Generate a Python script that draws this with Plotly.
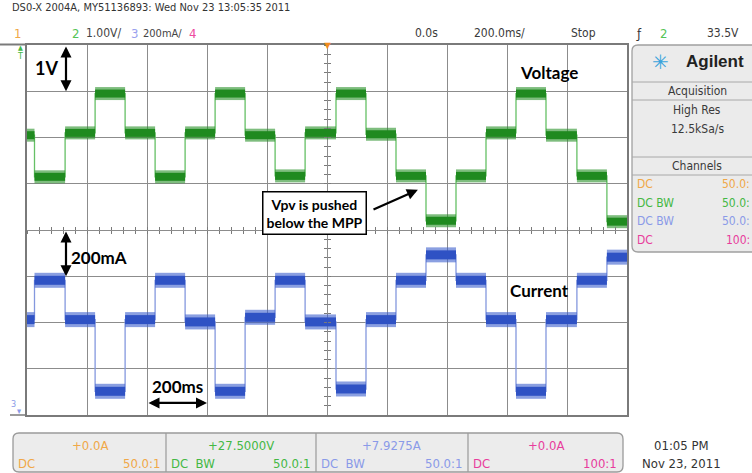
import plotly.graph_objects as go

# ---------------- data ----------------
time_range_ms = [-1000, 1000]          # 200 ms/div, 10 divisions, delay 0.0 s
step_times_ms = [-975, -873, -773, -673, -573, -473, -373, -273, -173, -73,
                 30, 130, 230, 330, 430, 530, 630, 730, 833, 933]
voltage_V = [29.55, 28.65, 29.60, 30.45, 29.60, 28.65, 29.60, 30.45, 29.55, 28.67,
             29.60, 30.45, 29.57, 28.67, 27.70, 28.67, 29.60, 30.45, 29.55, 28.67, 27.68]
current_A = [7.54, 7.71, 7.54, 7.23, 7.54, 7.71, 7.53, 7.23, 7.55, 7.71,
             7.53, 7.24, 7.54, 7.71, 7.82, 7.71, 7.54, 7.23, 7.54, 7.71, 7.81]
volt_per_div = 1.0
amp_per_div = 0.2
ch2_offset_V = 27.5
ch3_offset_A = 7.9275
n_vdiv = 8

# ---------------- geometry helpers (page pixels -> paper) ----------------
W, H = 752, 473
L, R, T, B = 27, 627, 45, 415
def PX(x): return (x - L) / (R - L)
def PY(y): return (B - y) / (B - T)

SCOPE = "Liberation Sans Narrow, DejaVu Sans Condensed, Liberation Sans, sans-serif"
BOLD = "Lato, Open Sans, Noto Sans, sans-serif"

bounds = [time_range_ms[0]] + step_times_ms + [time_range_ms[1]]

def step_xy(levels):
    return bounds[:-1] + [bounds[-1]], levels + [levels[-1]]

def band_xy(levels):
    xs, ys = [], []
    for i, lv in enumerate(levels):
        xs += [bounds[i], bounds[i + 1], None]
        ys += [lv, lv, None]
    return xs, ys

fig = go.Figure()

vx, vy = step_xy(voltage_V)
ix, iy = step_xy(current_A)
vbx, vby = band_xy(voltage_V)
ibx, iby = band_xy(current_A)

fig.add_trace(go.Scatter(x=vx, y=vy, mode="lines", line=dict(shape="hv", color="#66c066", width=1.3),
                         showlegend=False, hoverinfo="skip"))
fig.add_trace(go.Scatter(x=ix, y=iy, yaxis="y2", mode="lines", line=dict(shape="hv", color="#8498de", width=1.3),
                         showlegend=False, hoverinfo="skip"))
fig.add_trace(go.Scatter(x=vbx, y=vby, mode="lines", line=dict(color="rgba(40,145,40,0.6)", width=13),
                         showlegend=False, hoverinfo="skip"))
fig.add_trace(go.Scatter(x=vbx, y=vby, mode="lines", line=dict(color="#1f8a1f", width=8),
                         showlegend=False, hoverinfo="skip"))
fig.add_trace(go.Scatter(x=ibx, y=iby, yaxis="y2", mode="lines", line=dict(color="rgba(60,95,205,0.6)", width=15),
                         showlegend=False, hoverinfo="skip"))
fig.add_trace(go.Scatter(x=ibx, y=iby, yaxis="y2", mode="lines", line=dict(color="#2f52c4", width=9),
                         showlegend=False, hoverinfo="skip"))
# empty traces so the centre-line tick axes are drawn
for xa, ya in [("x2", "y"), ("x3", "y"), ("x", "y3"), ("x", "y4")]:
    fig.add_trace(go.Scatter(x=[None], y=[None], xaxis=xa, yaxis=ya, showlegend=False, hoverinfo="skip"))

vlo = ch2_offset_V - n_vdiv / 2 * volt_per_div
vhi = ch2_offset_V + n_vdiv / 2 * volt_per_div
ilo = ch3_offset_A - n_vdiv / 2 * amp_per_div
ihi = ch3_offset_A + n_vdiv / 2 * amp_per_div
tdiv = (time_range_ms[1] - time_range_ms[0]) / 10

grid = dict(showgrid=True, gridcolor="#8c8c8c", gridwidth=1.3, showticklabels=False, ticks="",
            zeroline=False, showline=True, linecolor="#7a7a7a", linewidth=2, mirror=True, fixedrange=True)
tickax = dict(showgrid=False, showticklabels=False, showline=False, zeroline=False, ticklen=3,
              tickwidth=1, tickcolor="#7a7a7a", anchor="free", position=0.5, fixedrange=True)

fig.update_layout(
    width=W, height=H, margin=dict(l=L, r=W - R, t=T, b=H - B),
    paper_bgcolor="white", plot_bgcolor="white",
    xaxis=dict(range=time_range_ms, dtick=tdiv, tick0=time_range_ms[0], **grid),
    yaxis=dict(range=[vlo, vhi], dtick=volt_per_div, tick0=vlo, **grid),
    yaxis2=dict(range=[ilo, ihi], overlaying="y", visible=False, fixedrange=True),
    xaxis2=dict(range=time_range_ms, overlaying="x", tick0=0, dtick=tdiv / 5, ticks="inside", **tickax),
    xaxis3=dict(range=time_range_ms, overlaying="x", tick0=0, dtick=tdiv / 5, ticks="outside", **tickax),
    yaxis3=dict(range=[vlo, vhi], overlaying="y", tick0=vlo, dtick=volt_per_div / 5, ticks="inside", **tickax),
    yaxis4=dict(range=[vlo, vhi], overlaying="y", tick0=vlo, dtick=volt_per_div / 5, ticks="outside", **tickax),
)

ann = []
def txt(s, x, y, size=12, color="#3a3a3a", anchor="center", family=SCOPE):
    ann.append(dict(text=s, x=PX(x), y=PY(y), xref="paper", yref="paper", xanchor=anchor,
                    yanchor="middle", showarrow=False, font=dict(size=size, color=color, family=family)))

# header
txt("DS0-X 2004A, MY51136893: Wed Nov 23 13:05:35 2011", 10, 8, 11, "#333", "left")
txt("1", 12, 33, 13, "#f0a848", "left")
txt("2", 70, 33, 13, "#55c455", "left")
txt("1.00V/", 84, 33, 12, "#444", "left")
txt("3", 129, 33, 13, "#9aa0ee", "left")
txt("200mA/", 141, 33, 11, "#444", "left")
txt("4", 187, 33, 13, "#ee4aa0", "left")
txt("0.0s", 426, 33, 12)
txt("200.0ms/", 499, 33, 12)
txt("Stop", 583, 33, 12)
txt("ƒ", 639, 33, 13, "#333")
txt("2", 663, 33, 13, "#55c455")
txt("33.5V", 723, 33, 12)

# right panel
shapes = []
def rrect(x0, y0, x1, y1, r, fill, line, lw=1.3):
    p = (f"M {PX(x0+r)},{PY(y0)} L {PX(x1-r)},{PY(y0)} Q {PX(x1)},{PY(y0)} {PX(x1)},{PY(y0+r)} "
         f"L {PX(x1)},{PY(y1-r)} Q {PX(x1)},{PY(y1)} {PX(x1-r)},{PY(y1)} L {PX(x0+r)},{PY(y1)} "
         f"Q {PX(x0)},{PY(y1)} {PX(x0)},{PY(y1-r)} L {PX(x0)},{PY(y0+r)} Q {PX(x0)},{PY(y0)} {PX(x0+r)},{PY(y0)} Z")
    shapes.append(dict(type="path", path=p, xref="paper", yref="paper", fillcolor=fill,
                       line=dict(color=line, width=lw), layer="below"))
def hline(x0, x1, y, color="#a8a8a8", w=1):
    shapes.append(dict(type="line", x0=PX(x0), x1=PX(x1), y0=PY(y), y1=PY(y), xref="paper", yref="paper",
                       line=dict(color=color, width=w)))
def vline(x, y0, y1, color="#a8a8a8", w=1):
    shapes.append(dict(type="line", x0=PX(x), x1=PX(x), y0=PY(y0), y1=PY(y1), xref="paper", yref="paper",
                       line=dict(color=color, width=w)))

rrect(632, 45, 762, 252, 6, "#ebebeb", "#a0a0a0")
hline(632, 752, 82)
hline(632, 752, 100)
hline(632, 752, 157)
hline(632, 752, 175)
txt("✳", 660, 62, 20, "#3aa4dc", family="DejaVu Sans")
txt("<b>Agilent</b>", 715, 62, 17, "#222", family="Liberation Sans, Arial, sans-serif")
txt("Acquisition", 697, 91, 12)
txt("High Res", 697, 110, 12)
txt("12.5kSa/s", 697, 129, 12)
txt("Channels", 697, 166, 12)
rows = [("DC", "50.0:", "#f0a848"), ("DC BW", "50.0:", "#44b844"), ("DC BW", "50.0:", "#8a9ae8"), ("DC", "100:", "#e83c9c")]
for k, (a, b, c) in enumerate(rows):
    yy = 184 + k * 18.5
    txt(a, 635, yy, 12, c, "left")
    txt(b, 752, yy, 12, c, "right")

# bottom channel boxes
rrect(13, 433, 623, 472, 6, "#ececec", "#9a9a9a")
for xd in [166, 316, 468]:
    vline(xd, 433, 472, "#9a9a9a", 1.2)
boxes = [(13, 166, "+0.0A", "DC", "50.0:1", "#f0a848"),
         (166, 316, "+27.5000V", "DC  BW", "50.0:1", "#44b844"),
         (316, 468, "+7.9275A", "DC  BW", "50.0:1", "#8a9ae8"),
         (468, 623, "+0.0A", "DC", "100:1", "#e83c9c")]
for x0, x1, top, lft, rgt, c in boxes:
    txt(top, (x0 + x1) / 2, 445, 13, c)
    txt(lft, x0 + 3, 463, 13, c, "left")
    txt(rgt, x1 - 4, 463, 13, c, "right")
txt("01:05 PM", 681, 445, 13, "#333")
txt("Nov 23, 2011", 681, 463, 13, "#333")

# frame stubs left of graticule
hline(0, 27, 44.5, "#7a7a7a", 2)
hline(10, 27, 415, "#7a7a7a", 1.5)

# markers
ann.append(dict(text="▼", x=0, y=1, xref="x", yref="paper", yanchor="bottom", yshift=-9, showarrow=False,
                font=dict(size=11, color="#f08c1e")))
txt("▲", 20, 48, 7, "#44b844")
txt("T", 20, 56, 9, "#44b844")
txt("3", 13, 404, 9, "#8a9ae8")
txt("▾", 19, 411, 9, "#8a9ae8")

# scale annotations
t_1v = -870
ann.append(dict(x=t_1v, y=vhi - volt_per_div, ax=t_1v, ay=vhi, xref="x", yref="y", axref="x", ayref="y",
                text="", showarrow=True, arrowside="end+start", arrowhead=2, arrowsize=1, arrowwidth=2.2,
                arrowcolor="black", standoff=0, startstandoff=0))
ann.append(dict(x=t_1v, y=ch3_offset_A - amp_per_div, ax=t_1v, ay=ch3_offset_A, xref="x", yref="y2",
                axref="x", ayref="y2", text="", showarrow=True, arrowside="end+start", arrowhead=2,
                arrowsize=1, arrowwidth=2.2, arrowcolor="black", standoff=0, startstandoff=0))
ann.append(dict(x=-400, y=23.76, ax=-600, ay=23.76, xref="x", yref="y", axref="x", ayref="y",
                text="", showarrow=True, arrowside="end+start", arrowhead=2, arrowsize=1, arrowwidth=2.2,
                arrowcolor="black", standoff=0, startstandoff=0))
txt("<b>1V</b>", 46, 68, 18, "black", family=BOLD)
txt("<b>200mA</b>", 99, 257, 17, "black", family=BOLD)
txt("<b>200ms</b>", 177, 386, 17, "black", family=BOLD)
txt("<b>Voltage</b>", 549, 72, 17, "black", family=BOLD)
txt("<b>Current</b>", 539, 290, 17, "black", family=BOLD)
ann.append(dict(text="<b>Vpv is pushed<br>below the MPP</b>", x=PX(314), y=PY(213), xref="paper", yref="paper",
                showarrow=False, bordercolor="black", borderwidth=1.5, borderpad=3, bgcolor="white",
                font=dict(size=14, color="black", family=BOLD)))
ann.append(dict(x=303, y=28.37, ax=150, ay=27.93, xref="x", yref="y", axref="x", ayref="y", text="",
                showarrow=True, arrowhead=2, arrowsize=1, arrowwidth=2.2, arrowcolor="black",
                standoff=0, startstandoff=0))

fig.update_layout(annotations=ann, shapes=shapes)
fig.write_html("out.html", config={"displayModeBar": False},
               post_script="document.body.style.margin='0';document.body.style.overflow='hidden';")
